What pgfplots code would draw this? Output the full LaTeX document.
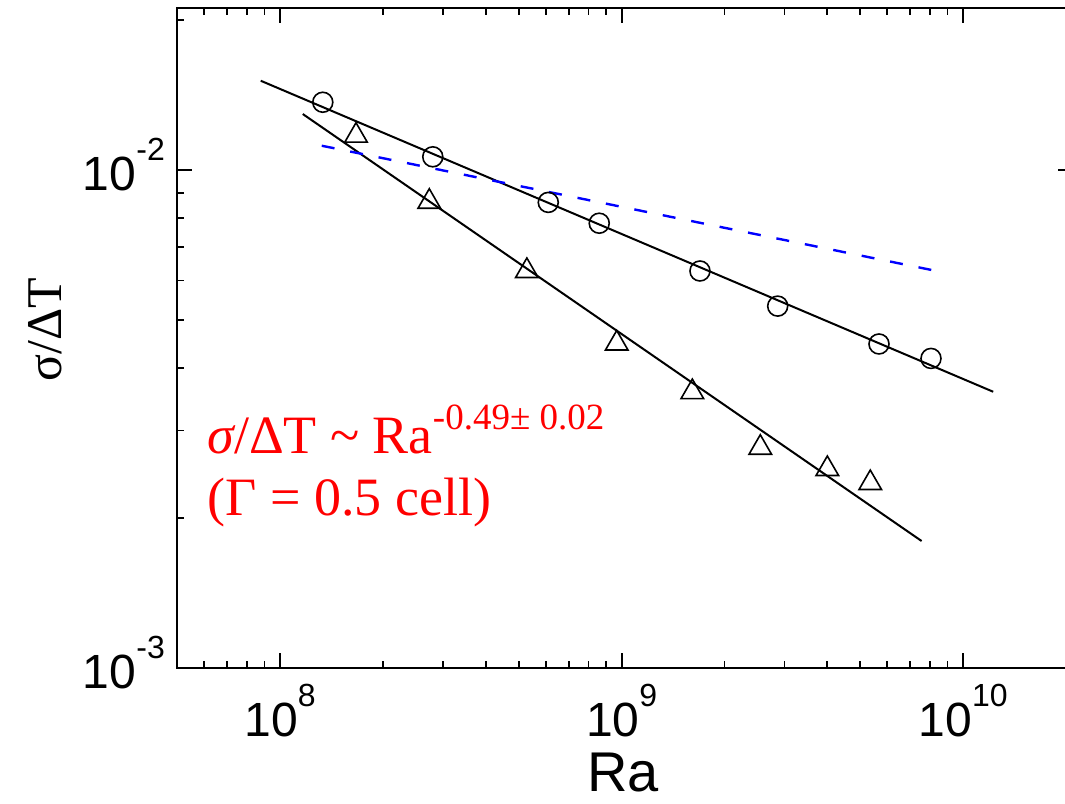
\documentclass[border=0pt]{standalone}
\usepackage{pgfplots}
\pgfplotsset{compat=1.18}
\usepackage{fontspec}
\setmainfont{Liberation Sans}
\newfontfamily\tnr{Liberation Serif}
\newcommand{\tl}[1]{10\raisebox{15pt}{\fontsize{16}{16}\selectfont #1}}
\begin{document}
\begin{tikzpicture}
\begin{axis}[
  scale only axis, width=448pt, height=330pt,
  at={(0,0)}, anchor=south west,
  xmode=log, ymode=log,
  xmin=5e7, xmax=2.1e10, ymin=1e-3, ymax=0.02115,
  axis line style={line width=1pt},
  tick style={line width=0.9pt, black},
  major tick length=7.5pt, minor tick length=3.5pt,
  xtick={1e8,1e9,1e10}, xticklabels={\tl{8},\tl{9},\tl{10}},
  ytick={1e-3,1e-2}, yticklabels={\tl{-3},\tl{-2}},
  minor xtick={6e7,7e7,8e7,9e7,2e8,3e8,4e8,5e8,6e8,7e8,8e8,9e8,2e9,3e9,4e9,5e9,6e9,7e9,8e9,9e9,2e10},
  minor ytick={2e-3,3e-3,4e-3,5e-3,6e-3,7e-3,8e-3,9e-3,2e-2},
  xticklabel style={font=\fontsize{24}{24}\selectfont, anchor=base, inner sep=0pt, yshift=-34pt},
  yticklabel style={font=\fontsize{24}{24}\selectfont, anchor=base east, inner sep=0pt, xshift=-6pt, yshift=-10pt},
]
\addplot[black, line width=1pt] coordinates {(8.779e7,0.01511) (1.2246e10,0.003587)};
\addplot[black, line width=1pt] coordinates {(1.1656e8,0.012955) (7.558e9,0.001799)};
\addplot[blue, line width=1.2pt, dash pattern=on 6.5pt off 8pt] coordinates {(1.3246e8,0.011189) (8.10e9,0.006297)};
\addplot[only marks, mark=o, mark size=5pt, black, mark options={line width=0.8pt}] coordinates {
 (1.334e8,0.01368) (2.80e8,0.01063) (6.10e8,0.00861) (8.60e8,0.00782)
 (1.696e9,0.00627) (2.864e9,0.00533) (5.67e9,0.004474) (8.05e9,0.004185)};
\addplot[only marks, mark=triangle, mark size=6.5pt, black, mark options={line width=0.8pt}] coordinates {
 (1.669e8,0.01172) (2.735e8,0.008636) (5.28e8,0.00627) (9.676e8,0.004484)
 (1.611e9,0.003582) (2.547e9,0.002769) (4.002e9,0.002510) (5.346e9,0.002352)};
\end{axis}
\node[rotate=90, font=\tnr\fontsize{25}{25}\selectfont, inner sep=0pt] at (-66.1pt,169pt) {σ/ΔT};
\node[anchor=base, font=\fontsize{28}{28}\selectfont, inner sep=0pt] at (222.9pt,-61.5pt) {Ra};
\node[anchor=base west, text=red, font=\tnr\fontsize{27}{27}\selectfont, inner sep=0pt] at (14.9pt,107pt)
  {{\itshape σ}/ΔT \textasciitilde{} Ra\raisebox{12pt}{\fontsize{18.5}{18.5}\selectfont -0.49± 0.02}};
\node[anchor=base west, text=red, font=\tnr\fontsize{27}{27}\selectfont, inner sep=0pt] at (14.9pt,76pt)
  {(Γ = 0.5 cell)};
\pgfresetboundingbox
\path[use as bounding box] (-88.6pt,-67.5pt) rectangle (443.9pt,334pt);
\end{tikzpicture}
\end{document}
